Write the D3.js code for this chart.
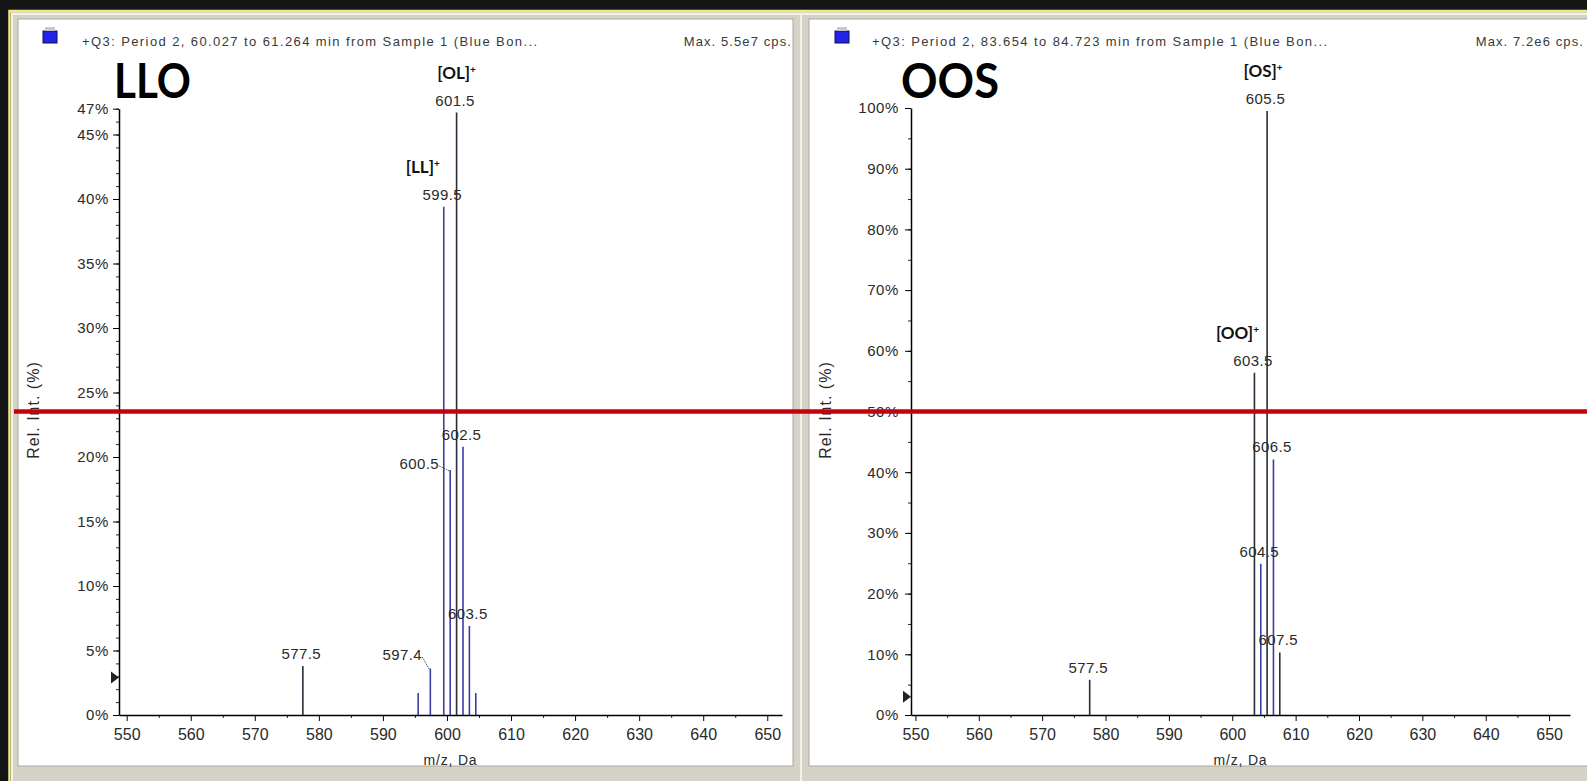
<!DOCTYPE html>
<html>
<head>
<meta charset="utf-8">
<script src="https://cdn.jsdelivr.net/npm/d3@7"></script>
<style>
  html, body { margin: 0; padding: 0; background: #111; }
  svg { display: block; }
</style>
</head>
<body>
<div id="chart"></div>
<script>
// LLO spectrum (left panel)
const lloMz = [577.5, 595.5, 597.4, 599.5, 600.5, 601.5, 602.5, 603.5, 604.5];
const lloInt = [3.8, 1.7, 3.6, 39.4, 19.0, 46.7, 20.8, 6.9, 1.7];
const lloLabels = ["577.5", "", "597.4", "599.5", "600.5", "601.5", "602.5", "603.5", ""];
const lloIons = [["LL", 599.5], ["OL", 601.5]];

// OOS spectrum (right panel)
const oosMz = [577.5, 603.5, 604.5, 605.5, 606.5, 607.5];
const oosInt = [5.8, 56.4, 24.9, 99.5, 42.1, 10.3];
const oosLabels = ["577.5", "603.5", "604.5", "605.5", "606.5", "607.5"];
const oosIons = [["OO", 603.5], ["OS", 605.5]];

// axis ticks
const xTicks = [550, 560, 570, 580, 590, 600, 610, 620, 630, 640, 650];
const lloYTicks = [0, 5, 10, 15, 20, 25, 30, 35, 40, 45, 47];
const oosYTicks = [0, 10, 20, 30, 40, 50, 60, 70, 80, 90, 100];

const W = 1587, H = 781;
const font = "'Liberation Sans', Arial, sans-serif";

const svg = d3.select("#chart").append("svg")
    .attr("width", W)
    .attr("height", H);

// window frame
svg.append("rect").attr("width", W).attr("height", H).attr("fill", "#141414");
svg.append("rect").attr("x", 11).attr("y", 12).attr("width", W).attr("height", H)
    .attr("fill", "#d5d2c8");
svg.append("path").attr("d", `M9.5,${H} V11 H${W}`)
    .attr("fill", "none").attr("stroke", "#efe98a").attr("stroke-width", 2.5);
svg.append("path").attr("d", `M12,${H} V14 H${W}`)
    .attr("fill", "none").attr("stroke", "#f4f2e4").attr("stroke-width", 2);

const panels = [
    {
        mz: lloMz, int: lloInt, labels: lloLabels, ions: lloIons,
        yTicks: lloYTicks, yMinor: d3.range(0, 48, 1), yMax: 47,
        box: [18, 793], xRange: [119, 782], xDomain: [548.8, 652.3], yTop: 108.7,
        name: "LLO", nameX: 114,
        header: "+Q3: Period 2, 60.027 to 61.264 min from Sample 1 (Blue Bon...",
        headerX: 82, iconX: 43, maxText: "Max. 5.5e7 cps.", maxX: 792,
        ylabX: 34, yPad: 4, threshold: 2.9,
        dark: [577.5, 601.5]
    },
    {
        mz: oosMz, int: oosInt, labels: oosLabels, ions: oosIons,
        yTicks: oosYTicks, yMinor: d3.range(0, 101, 5), yMax: 100,
        box: [809, W + 2], xRange: [911, 1570], xDomain: [549.3, 653.3], yTop: 108,
        name: "OOS", nameX: 901,
        header: "+Q3: Period 2, 83.654 to 84.723 min from Sample 1 (Blue Bon...",
        headerX: 872, iconX: 835, maxText: "Max. 7.2e6 cps.", maxX: 1584,
        ylabX: 826, yPad: 6, threshold: 3.0,
        dark: [577.5, 603.5, 605.5, 607.5]
    }
];

// label placement tweaks (pixels)
const labelShift = {
    "600.5": { dx: -31, dy: -1, leader: true },
    "597.4": { dx: -28, dy: -8.5, leader: true }
};
const ionShift = { LL: -21, OL: 0, OO: -17, OS: -4 };

const y0 = 715;
let oosY;

panels.forEach(p => {
    const x = d3.scaleLinear().domain(p.xDomain).range(p.xRange);
    const y = d3.scaleLinear().domain([0, p.yMax]).range([y0, p.yTop]);
    if (p.yMax === 100) oosY = y;

    const g = svg.append("g");

    // white window + border
    g.append("rect")
        .attr("x", p.box[0]).attr("y", 19)
        .attr("width", p.box[1] - p.box[0]).attr("height", 747)
        .attr("fill", "#fff").attr("stroke", "#a9a7a0").attr("stroke-width", 1);

    // header
    g.append("rect").attr("x", p.iconX).attr("y", 31).attr("width", 14).attr("height", 12)
        .attr("fill", "#2424e6").attr("stroke", "#10105a").attr("stroke-width", 1);
    g.append("rect").attr("x", p.iconX + 2).attr("y", 27).attr("width", 10).attr("height", 4)
        .attr("fill", "#c8c8d0");
    g.append("text").attr("x", p.headerX).attr("y", 46)
        .attr("font-family", font).attr("font-size", 13).attr("letter-spacing", 1.4)
        .attr("fill", "#3a3a3a").text(p.header);
    g.append("text").attr("x", p.maxX).attr("y", 46).attr("text-anchor", "end")
        .attr("font-family", font).attr("font-size", 13).attr("letter-spacing", 1.1)
        .attr("fill", "#3a3a3a").text(p.maxText);

    // big compound label
    g.append("text").attr("x", p.nameX).attr("y", 98)
        .attr("font-family", "Lato, 'Open Sans', sans-serif").attr("font-weight", 700)
        .attr("font-size", 48)
        .attr("textLength", p.name === "LLO" ? 77 : 98).attr("lengthAdjust", "spacingAndGlyphs")
        .attr("fill", "#000").text(p.name);

    // minor ticks
    g.append("g").attr("transform", `translate(${p.xRange[0]},0)`)
        .call(d3.axisLeft(y).tickValues(p.yMinor).tickSize(3).tickFormat(""))
        .call(a => a.select(".domain").remove())
        .selectAll("line").attr("stroke", "#222");
    g.append("g").attr("transform", `translate(0,${y0})`)
        .call(d3.axisBottom(x).tickValues(xTicks.map(v => v + 5).filter(v => v < p.xDomain[1]))
            .tickSize(3).tickFormat(""))
        .call(a => a.select(".domain").remove())
        .selectAll("line").attr("stroke", "#222");

    // y axis
    const ya = g.append("g").attr("transform", `translate(${p.xRange[0]},0)`)
        .call(d3.axisLeft(y).tickValues(p.yTicks).tickSize(6).tickSizeOuter(0)
            .tickPadding(p.yPad).tickFormat(d => d + "%"));
    ya.attr("font-family", font).attr("font-size", 15);
    ya.selectAll("text").attr("fill", "#2a2a2a").attr("letter-spacing", 0.6);
    ya.select(".domain").attr("stroke", "#000").attr("stroke-width", 1.5);

    // x axis
    const xa = g.append("g").attr("transform", `translate(0,${y0})`)
        .call(d3.axisBottom(x).tickValues(xTicks).tickSize(6).tickSizeOuter(0).tickPadding(8));
    xa.attr("font-family", font).attr("font-size", 16);
    xa.selectAll("text").attr("fill", "#2a2a2a");
    xa.select(".domain").attr("stroke", "#000").attr("stroke-width", 1.5);

    // axis titles
    const xMid = (p.xRange[0] + p.xRange[1]) / 2;
    g.append("text").attr("x", xMid).attr("y", 765).attr("text-anchor", "middle")
        .attr("font-family", font).attr("font-size", 14).attr("letter-spacing", 0.8)
        .attr("fill", "#2a2a2a").text("m/z, Da");
    g.append("text").attr("transform", `translate(${p.ylabX + 5},410) rotate(-90)`)
        .attr("text-anchor", "middle")
        .attr("font-family", font).attr("font-size", 16).attr("letter-spacing", 1)
        .attr("fill", "#2a2a2a").text("Rel. Int. (%)");

    // threshold marker
    const ty = y(p.threshold), tx = p.xRange[0];
    g.append("path").attr("d", `M${tx - 8},${ty - 6} L${tx},${ty} L${tx - 8},${ty + 6} Z`)
        .attr("fill", "#222");

    // peaks
    const peaks = p.mz.map((m, i) => ({ mz: m, v: p.int[i], label: p.labels[i] }));
    g.selectAll(".stick").data(peaks).enter().append("line")
        .attr("class", "stick")
        .attr("x1", d => x(d.mz)).attr("x2", d => x(d.mz))
        .attr("y1", y(0)).attr("y2", d => y(d.v))
        .attr("stroke", d => p.dark.includes(d.mz) ? "#2c2c3a" : "#3c3ca6")
        .attr("stroke-width", 1.6);

    // peak labels
    const lab = peaks.filter(d => d.label);
    lab.forEach(d => {
        const s = labelShift[d.label] || { dx: -1.5, dy: -7 };
        const lx = x(d.mz) + s.dx, ly = y(d.v) + s.dy;
        g.append("text").attr("x", lx).attr("y", ly).attr("text-anchor", "middle")
            .attr("font-family", font).attr("font-size", 15).attr("letter-spacing", 0.4)
            .attr("fill", "#2a2a2a").text(d.label);
        if (s.leader) {
            g.append("path")
                .attr("d", `M${lx + 20},${ly - 3} L${x(d.mz) - 1},${y(d.v) + 1}`)
                .attr("fill", "none").attr("stroke", "#555").attr("stroke-width", 1)
                .attr("stroke-dasharray", "1.5,1");
        }
    });

    // ion assignments
    p.ions.forEach(([ion, m]) => {
        const v = p.int[p.mz.indexOf(m)];
        const t = g.append("text")
            .attr("x", x(m) + ionShift[ion]).attr("y", y(v) - 7 - 27)
            .attr("text-anchor", "middle")
            .attr("font-family", "Lato, 'Open Sans', sans-serif").attr("font-weight", 700)
            .attr("font-size", 17).attr("fill", "#111");
        t.append("tspan").text(`[${ion}]`);
        t.append("tspan").attr("dy", -6).attr("font-size", 10).text("+");
    });
});

// divider between windows
svg.append("line").attr("x1", 801).attr("x2", 801).attr("y1", 14).attr("y2", H)
    .attr("stroke", "#f2f1ea").attr("stroke-width", 2);

// red guide line at 50% of the OOS scale
svg.append("line").attr("x1", 14).attr("x2", W)
    .attr("y1", oosY(50)).attr("y2", oosY(50))
    .attr("stroke", "#c8000a").attr("stroke-width", 4.5);
</script>
</body>
</html>
